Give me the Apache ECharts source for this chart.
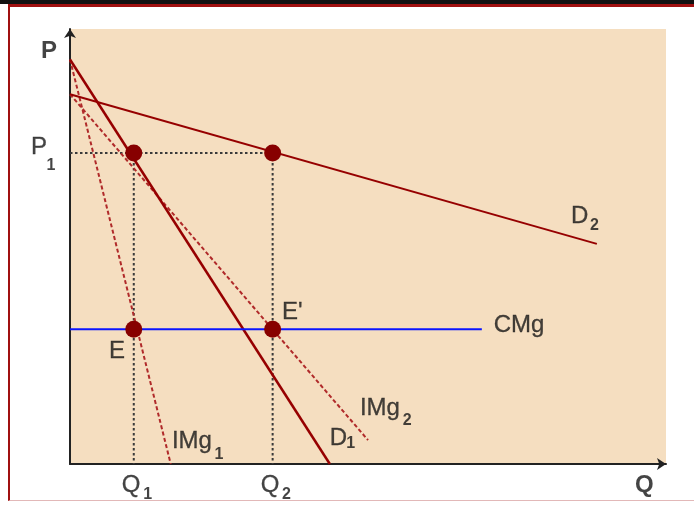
<!DOCTYPE html>
<html>
<head>
<meta charset="utf-8">
<script src="https://cdn.jsdelivr.net/npm/echarts@6/dist/echarts.min.js"></script>
<style>
  html, body { margin: 0; padding: 0; background: #fff; }
  #topbar { position: absolute; left: 0; top: 0; width: 694px; height: 4px; background: #111; }
  #frame { position: absolute; left: 8px; top: 4px; width: 686px; height: 497px;
           border-top: 3px solid #a01010; border-left: 2px solid #a01010;
           border-bottom: 1px solid #e2b8b8; box-sizing: border-box; }
  #chart { position: absolute; left: 0; top: 0; width: 694px; height: 506px; }
</style>
</head>
<body>
<div id="topbar"></div>
<div id="frame"></div>
<div id="chart"></div>
<script>
// Monopoly with two demand curves: price and quantity levels
const priceP1 = 71.5;
const quantityQ1 = 10.7;
const quantityQ2 = 34.0;
const marginalCost = 31.0;

// Curve end points [Q, P]
const demand1 = [[0, 93], [43.6, 0]];
const marginalRevenue1 = [[0, 93], [16.9, 0]];
const demand2 = [[0, 85], [88.4, 50.6]];
const marginalRevenue2 = [[0, 85], [50, 5.5]];
const costLine = [[0, marginalCost], [69.1, marginalCost]];

// Highlighted points: prices on D1/D2 and equilibria E, E'
const keyPoints = [
  [quantityQ1, priceP1], [quantityQ2, priceP1],
  [quantityQ1, marginalCost], [quantityQ2, marginalCost]
];

// Text labels: [text, Q, P, kind]
const labels = [
  ['P', -4.87, 97.7, 'axis'],
  ['Q', 94.8, -2.1, 'axis'],
  ['P', -6.55, 75.6, 'main'], ['1', -3.95, 70.4, 'sub'],
  ['Q', 8.7, -2.1, 'main'], ['1', 12.3, -5.3, 'sub'],
  ['Q', 32.0, -2.1, 'main'], ['2', 35.55, -5.3, 'sub'],
  ['E', 6.55, 28.7, 'main'],
  ["E'", 35.57, 37.65, 'main'],
  ['CMg', 71.1, 34.7, 'main'],
  ['D', 84.05, 59.75, 'main'], ['2', 87.25, 56.6, 'sub'],
  ['IMg', 48.65, 15.6, 'main'], ['2', 55.85, 11.8, 'sub'],
  ['D', 43.6, 8.7, 'main'], ['1', 46.35, 6.6, 'sub'],
  ['IMg', 17.1, 8.0, 'main'], ['1', 24.25, 4.0, 'sub']
];

const FONT = '"Liberation Sans", Arial, sans-serif';
const INK = '#151515';
const RED = '#960000';
const DASH_RED = '#b02a2a';
const GUIDE = '#3a3a3a';

function solid(name, data, width) {
  return { name, type: 'line', data, showSymbol: false, silent: true,
           lineStyle: { color: RED, width }, z: 3 };
}
function dashed(name, data) {
  return { name, type: 'line', data, showSymbol: false, silent: true,
           lineStyle: { color: DASH_RED, width: 2, type: [4, 2.5] }, z: 3 };
}
function guide(data) {
  return { type: 'line', data, showSymbol: false, silent: true,
           lineStyle: { color: GUIDE, width: 2, type: [2.5, 2.5] }, z: 2 };
}

const labelData = labels.map(([text, q, p, kind]) => ({
  value: [q, p],
  label: {
    show: true, position: [0, 0], align: 'left', verticalAlign: 'top',
    formatter: text, fontFamily: FONT, color: INK,
    fontSize: kind === 'sub' ? 16 : 24,
    lineHeight: kind === 'sub' ? 16 : 24,
    fontWeight: kind === 'main' ? 'normal' : 'bold',
    textBorderColor: INK,
    textBorderWidth: kind === 'main' ? 0.3 : 0
  }
}));

const chart = echarts.init(document.getElementById('chart'), null, { renderer: 'canvas' });
chart.setOption({
  animation: false,
  backgroundColor: 'transparent',
  grid: { left: 70, right: 28, top: 29, bottom: 42, show: true,
          backgroundColor: '#F5DEC0', borderWidth: 0 },
  xAxis: {
    type: 'value', min: 0, max: 100,
    axisLine: { show: true, onZero: false, symbol: ['none', 'arrow'], symbolSize: [9, 9],
                lineStyle: { color: '#222', width: 2 } },
    axisTick: { show: false }, axisLabel: { show: false }, splitLine: { show: false }
  },
  yAxis: {
    type: 'value', min: 0, max: 100,
    axisLine: { show: true, onZero: false, symbol: ['none', 'arrow'], symbolSize: [9, 9],
                lineStyle: { color: '#222', width: 2 } },
    axisTick: { show: false }, axisLabel: { show: false }, splitLine: { show: false }
  },
  series: [
    guide([[0, priceP1], [quantityQ2, priceP1]]),
    guide([[quantityQ1, priceP1], [quantityQ1, 0]]),
    guide([[quantityQ2, priceP1], [quantityQ2, 0]]),
    dashed('IMg1', marginalRevenue1),
    dashed('IMg2', marginalRevenue2),
    solid('D1', demand1, 2.5),
    solid('D2', demand2, 2),
    { name: 'CMg', type: 'line', data: costLine, showSymbol: false, silent: true,
      lineStyle: { color: '#0a14ff', width: 2 }, z: 3 },
    { type: 'scatter', data: keyPoints, symbol: 'circle', symbolSize: 17,
      itemStyle: { color: '#870000', opacity: 1 }, z: 5, silent: true },
    { type: 'scatter', data: labelData, symbolSize: 0, clip: false, silent: true, z: 6 }
  ]
});
</script>
</body>
</html>
